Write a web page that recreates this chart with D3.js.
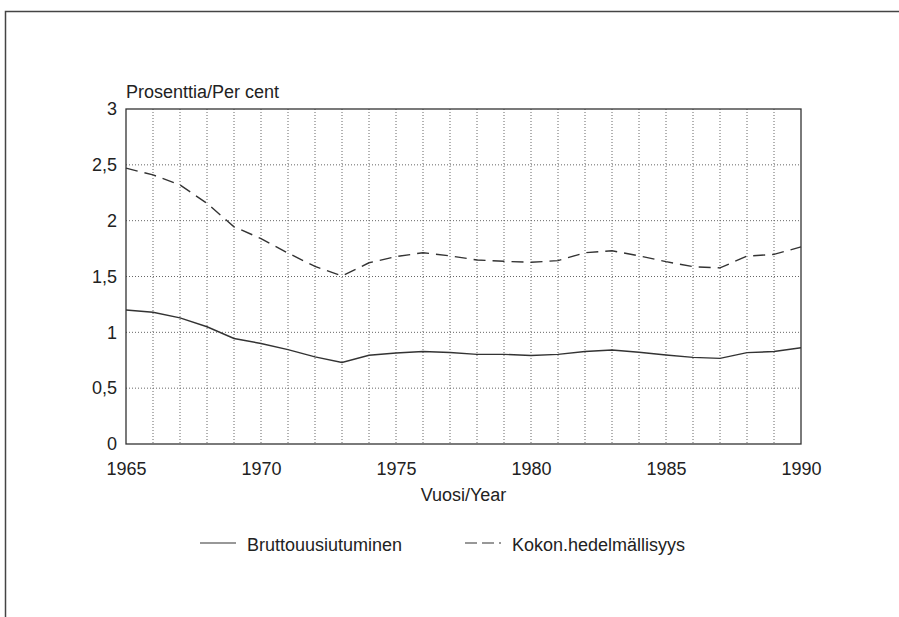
<!DOCTYPE html>
<html>
<head>
<meta charset="utf-8">
<script src="https://cdn.jsdelivr.net/npm/d3@7"></script>
<style>
  body { margin: 0; background: #fff; }
  text { font-family: "Liberation Sans", Arial, sans-serif; fill: #222; }
</style>
</head>
<body>
<div id="chart"></div>
<script>
// Years on the x axis
const years = d3.range(1965, 1991);

// Bruttouusiutuminen (solid line)
const grossRate = [1.20, 1.18, 1.13, 1.05, 0.945, 0.90, 0.845, 0.78, 0.73, 0.795, 0.815, 0.828,
  0.82, 0.803, 0.803, 0.792, 0.803, 0.828, 0.842, 0.822, 0.797, 0.776, 0.767, 0.818, 0.828, 0.862];

// Kokon.hedelmällisyys (dashed line)
const totalFertility = [2.47, 2.41, 2.32, 2.155, 1.945, 1.84, 1.71, 1.59, 1.505, 1.623, 1.678, 1.713,
  1.685, 1.648, 1.636, 1.627, 1.642, 1.713, 1.73, 1.685, 1.633, 1.588, 1.577, 1.683, 1.698, 1.765];

const yTicks = [0, 0.5, 1, 1.5, 2, 2.5, 3];
const xTicks = [1965, 1970, 1975, 1980, 1985, 1990];

const width = 899, height = 617;
const margin = { top: 109, right: 98, bottom: 173, left: 126 };
const plotW = width - margin.left - margin.right;
const plotH = height - margin.top - margin.bottom;
const fontSize = 18;

const svg = d3.select("#chart")
  .append("svg")
  .attr("width", width)
  .attr("height", height);

// outer frame (runs off the right and bottom edges)
svg.append("path")
  .attr("d", "M5.5,640 L5.5,11.5 L920,11.5")
  .attr("fill", "none")
  .attr("stroke", "#444")
  .attr("stroke-width", 1.5);

const g = svg.append("g")
  .attr("transform", `translate(${margin.left},${margin.top})`);

const x = d3.scaleLinear().domain([1965, 1990]).range([0, plotW]);
const y = d3.scaleLinear().domain([0, 3]).range([plotH, 0]);

// dotted grid
g.selectAll("line.vgrid")
  .data(years.slice(1, -1))
  .enter()
  .append("line")
  .attr("class", "vgrid")
  .attr("x1", d => x(d)).attr("x2", d => x(d))
  .attr("y1", 0).attr("y2", plotH)
  .attr("stroke", "#666")
  .attr("stroke-width", 1)
  .attr("stroke-dasharray", "1,2");

g.selectAll("line.hgrid")
  .data(yTicks.slice(1, -1))
  .enter()
  .append("line")
  .attr("class", "hgrid")
  .attr("x1", 0).attr("x2", plotW)
  .attr("y1", d => y(d)).attr("y2", d => y(d))
  .attr("stroke", "#666")
  .attr("stroke-width", 1)
  .attr("stroke-dasharray", "1,2");

// plot frame
g.append("rect")
  .attr("width", plotW)
  .attr("height", plotH)
  .attr("fill", "none")
  .attr("stroke", "#333")
  .attr("stroke-width", 1.3);

// axes (labels only, no tick marks)
const fmt = d => String(d).replace(".", ",");
const yAxis = g.append("g")
  .call(d3.axisLeft(y).tickValues(yTicks).tickFormat(fmt).tickSize(0).tickPadding(9));
const xAxis = g.append("g")
  .attr("transform", `translate(0,${plotH})`)
  .call(d3.axisBottom(x).tickValues(xTicks).tickFormat(d3.format("d")).tickSize(0).tickPadding(18));
[yAxis, xAxis].forEach(a => {
  a.select(".domain").remove();
  a.selectAll("text")
    .attr("font-family", "\"Liberation Sans\", Arial, sans-serif")
    .attr("font-size", fontSize)
    .attr("fill", "#222");
});

// axis titles
g.append("text")
  .attr("x", 0)
  .attr("y", -11)
  .attr("font-size", fontSize)
  .text("Prosenttia/Per cent");

g.append("text")
  .attr("x", plotW / 2)
  .attr("y", plotH + 57)
  .attr("text-anchor", "middle")
  .attr("font-size", fontSize)
  .text("Vuosi/Year");

// series
const line = d3.line()
  .x((d, i) => x(years[i]))
  .y(d => y(d));

g.append("path")
  .datum(grossRate)
  .attr("d", line)
  .attr("fill", "none")
  .attr("stroke", "#333")
  .attr("stroke-width", 1.4);

g.append("path")
  .datum(totalFertility)
  .attr("d", line)
  .attr("fill", "none")
  .attr("stroke", "#333")
  .attr("stroke-width", 1.4)
  .attr("stroke-dasharray", "12,7");

// legend
const legend = svg.append("g");
legend.append("line")
  .attr("x1", 200).attr("x2", 236)
  .attr("y1", 543).attr("y2", 543)
  .attr("stroke", "#333").attr("stroke-width", 1.2);
legend.append("text")
  .attr("x", 247).attr("y", 551)
  .attr("font-size", fontSize)
  .text("Bruttouusiutuminen");

legend.append("line")
  .attr("x1", 465).attr("x2", 502)
  .attr("y1", 543).attr("y2", 543)
  .attr("stroke", "#333").attr("stroke-width", 1.2)
  .attr("stroke-dasharray", "12,5,12,5,2,10");
legend.append("text")
  .attr("x", 512).attr("y", 551)
  .attr("font-size", fontSize)
  .text("Kokon.hedelmällisyys");
</script>
</body>
</html>
